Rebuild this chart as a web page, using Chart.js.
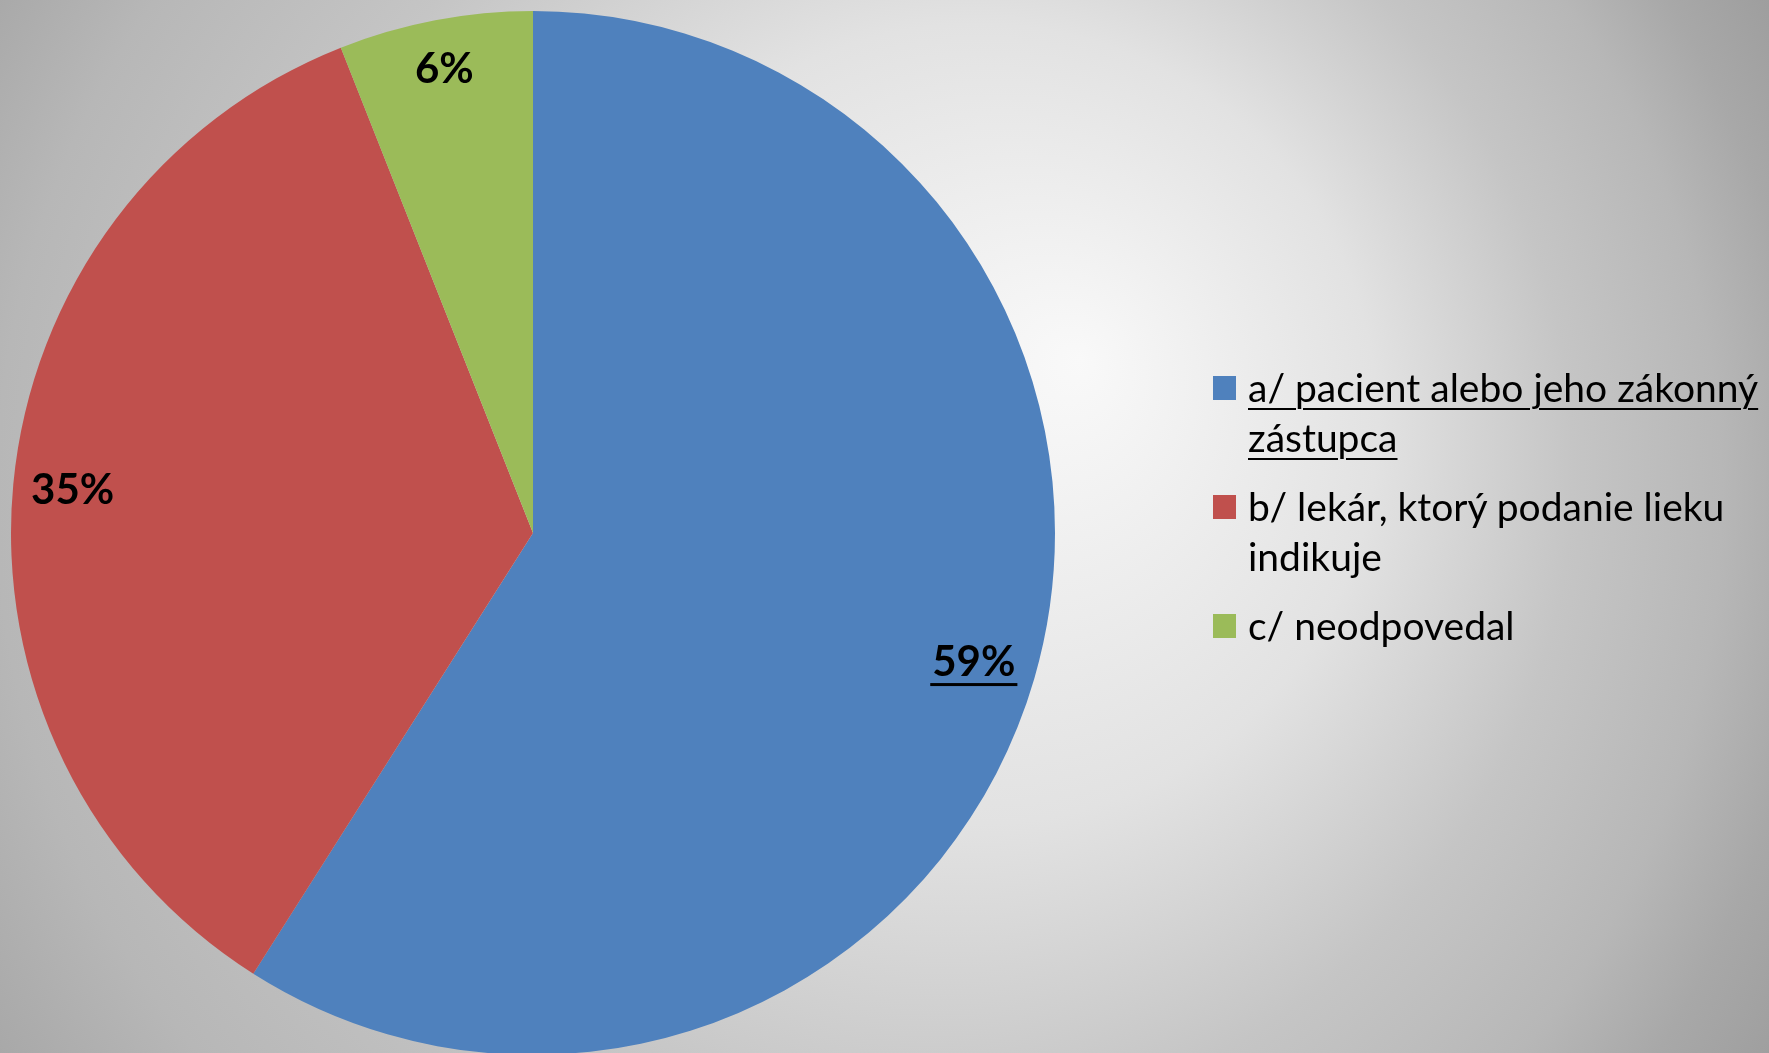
<!DOCTYPE html>
<html>
<head>
<meta charset="utf-8">
<script src="https://cdn.jsdelivr.net/npm/chart.js@4.4.1/dist/chart.umd.min.js"></script>
<style>
  html, body { margin: 0; padding: 0; overflow: hidden; width: 1769px; height: 1053px; }
  #wrap { position: absolute; left: 0; top: 0; width: 1769px; height: 1060px; }
  #legend { position: absolute; left: 1213px; top: 362px; font-family: Lato, sans-serif; font-size: 39px; line-height: 50px; color: #000; }
  #legend .item { display: flex; align-items: flex-start; margin-bottom: 19px; }
  #legend .box { width: 23px; height: 24px; margin-top: 14px; margin-right: 12px; flex: none; }
  #legend .txt.u { text-decoration: underline; text-decoration-thickness: 2px; text-underline-offset: 6px; }
</style>
</head>
<body>
<div id="wrap"><canvas id="mainChart"></canvas></div>
<div id="legend"></div>
<script>
// dados do gráfico
const categorias = [
  ['a/ pacient alebo jeho zákonný', 'zástupca'],
  ['b/ lekár, ktorý podanie lieku', 'indikuje'],
  ['c/ neodpovedal']
];
const valores = [59, 35, 6];
const cores = ['#4F81BD', '#C0504D', '#9BBB59'];
const sublinhado = [true, false, false]; // primeira categoria sublinhada como no original

const ctx = document.getElementById('mainChart');

// fundo com gradiente radial (claro à direita do gráfico, escurecendo mais rápido para a direita)
const fundo = {
  id: 'fundo',
  beforeDraw(chart) {
    const c = chart.ctx;
    const g = c.createRadialGradient(1080, 360, 0, 760, 560, 1250);
    g.addColorStop(0, '#f9f9f9');
    g.addColorStop(0.32, '#e2e2e2');
    g.addColorStop(0.53, '#c5c5c5');
    g.addColorStop(0.69, '#b7b7b7');
    g.addColorStop(0.79, '#a8a8a8');
    g.addColorStop(0.89, '#9e9e9e');
    g.addColorStop(1, '#969696');
    c.save();
    c.fillStyle = g;
    c.fillRect(0, 0, chart.width, chart.height);
    c.restore();
  }
};

// rótulos de porcentagem "inside end"
const rotulos = {
  id: 'rotulos',
  afterDatasetsDraw(chart) {
    const c = chart.ctx;
    const meta = chart.getDatasetMeta(0);
    c.save();
    c.font = 'bold 42px Lato, sans-serif';
    c.fillStyle = '#000';
    c.textAlign = 'center';
    c.textBaseline = 'alphabetic';
    meta.data.forEach((arc, i) => {
      const p = arc.getProps(['x', 'y', 'startAngle', 'endAngle', 'outerRadius']);
      const meio = (p.startAngle + p.endAngle) / 2;
      const ux = Math.cos(meio), uy = Math.sin(meio);
      const texto = valores[i] + '%';
      const w = c.measureText(texto).width;
      const hw = w / 2, hh = 28;
      const R = p.outerRadius - 15;
      const b = Math.abs(ux) * hw + Math.abs(uy) * hh;
      const d = -b + Math.sqrt(b * b - (hw * hw + hh * hh - R * R));
      const x = p.x + ux * d, y = p.y + uy * d;
      const base = y + 15;
      c.fillText(texto, x, base);
      if (sublinhado[i]) {
        c.fillRect(x - hw - 2, base + 7, w + 4, 3);
      }
    });
    c.restore();
  }
};

const chart = new Chart(ctx, {
  type: 'pie',
  data: {
    labels: categorias,
    datasets: [{
      data: valores,
      backgroundColor: cores,
      borderWidth: 0
    }]
  },
  options: {
    responsive: true,
    maintainAspectRatio: false,
    animation: false,
    layout: { padding: { left: 11, top: 11, right: 714, bottom: 5 } },
    plugins: {
      legend: { display: false },
      tooltip: { enabled: false }
    }
  },
  plugins: [fundo, rotulos]
});

// legenda em HTML
const legenda = document.getElementById('legend');
categorias.forEach((cat, i) => {
  const item = document.createElement('div');
  item.className = 'item';
  const box = document.createElement('div');
  box.className = 'box';
  box.style.background = cores[i];
  const txt = document.createElement('div');
  txt.className = 'txt' + (sublinhado[i] ? ' u' : '');
  txt.innerHTML = cat.join('<br>');
  item.appendChild(box);
  item.appendChild(txt);
  legenda.appendChild(item);
});
</script>
</body>
</html>
